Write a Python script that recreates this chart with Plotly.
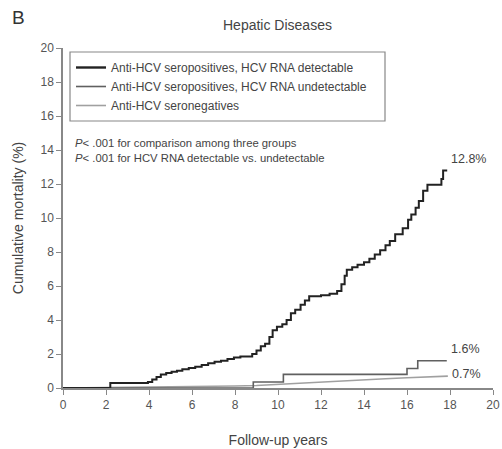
import plotly.graph_objects as go

# Data
det_t = [0, 2.2, 3.95, 4.15, 4.35, 4.55, 4.8, 5.05, 5.3, 5.55, 5.85, 6.15, 6.45, 6.75, 7.05, 7.35,
         7.65, 7.95, 8.25, 8.8, 9.0, 9.2, 9.4, 9.6, 9.75, 9.95, 10.2, 10.4, 10.6, 10.8, 11.05,
         11.25, 11.45, 12.0, 12.4, 12.75, 12.95, 13.1, 13.2, 13.45, 13.7, 14.0, 14.25, 14.5,
         14.75, 15.0, 15.2, 15.45, 15.8, 16.05, 16.2, 16.4, 16.55, 16.75, 16.95, 17.6, 17.68, 17.87]
det_v = [0, 0.3, 0.35, 0.5, 0.65, 0.8, 0.88, 0.95, 1.02, 1.1, 1.18, 1.25, 1.35, 1.45, 1.55, 1.6,
         1.7, 1.8, 1.85, 2.0, 2.2, 2.45, 2.6, 3.0, 3.4, 3.6, 3.75, 4.0, 4.4, 4.6, 4.9,
         5.15, 5.4, 5.45, 5.55, 5.7, 6.1, 6.6, 6.95, 7.1, 7.25, 7.4, 7.6, 7.85,
         8.1, 8.4, 8.65, 9.05, 9.4, 9.9, 10.2, 10.6, 11.0, 11.6, 11.95, 12.3, 12.8, 12.8]

und_t = [0, 8.85, 10.25, 16.0, 16.5, 17.85]
und_v = [0, 0.35, 0.8, 1.15, 1.6, 1.6]

neg_t = [0, 2, 4, 6, 8, 9, 10, 11, 12, 13, 14, 15, 16, 17, 17.9]
neg_v = [0, 0.02, 0.05, 0.08, 0.12, 0.15, 0.22, 0.3, 0.36, 0.42, 0.48, 0.54, 0.6, 0.65, 0.7]

series_names = ["Anti-HCV seropositives, HCV RNA detectable",
                "Anti-HCV seropositives, HCV RNA undetectable",
                "Anti-HCV seronegatives"]
end_labels = ["12.8%", "1.6%", "0.7%"]
x_ticks = list(range(0, 21, 2))
y_ticks = list(range(0, 21, 2))

fig = go.Figure()
fig.add_trace(go.Scatter(x=neg_t, y=neg_v, mode="lines", name=series_names[2],
                         line=dict(color="#a0a0a0", width=1.6), showlegend=False))
fig.add_trace(go.Scatter(x=und_t, y=und_v, mode="lines", name=series_names[1],
                         line=dict(color="#606060", width=1.6, shape="hv"), showlegend=False))
fig.add_trace(go.Scatter(x=det_t, y=det_v, mode="lines", name=series_names[0],
                         line=dict(color="#222222", width=2.0, shape="hv"), showlegend=False))

# legend entries (ordered)
for name, col, w in [(series_names[0], "#222222", 2.4),
                     (series_names[1], "#606060", 1.6),
                     (series_names[2], "#a0a0a0", 1.6)]:
    fig.add_trace(go.Scatter(x=[None], y=[None], mode="lines", name=name,
                             line=dict(color=col, width=w)))

ann_font = dict(family="Liberation Sans, Arial, sans-serif", color="#444444")
annotations = [
    dict(x=det_t[-1], y=det_v[-1], text=end_labels[0], xref="x", yref="y", showarrow=False,
         xanchor="left", yanchor="bottom", xshift=2, yshift=2, font=dict(size=12.5, **ann_font)),
    dict(x=und_t[-1], y=und_v[-1], text=end_labels[1], xref="x", yref="y", showarrow=False,
         xanchor="left", yanchor="bottom", xshift=2, yshift=3, font=dict(size=12.5, **ann_font)),
    dict(x=neg_t[-1], y=neg_v[-1], text=end_labels[2], xref="x", yref="y", showarrow=False,
         xanchor="left", yanchor="middle", xshift=2, yshift=2, font=dict(size=12.5, **ann_font)),
    dict(x=73, y=143, xref="paper", yref="paper", text="<i>P</i>< .001 for comparison among three groups",
         showarrow=False, xanchor="left", yanchor="middle", font=dict(size=11.3, **ann_font)),
    dict(x=73, y=158, xref="paper", yref="paper", text="<i>P</i>< .001 for HCV RNA detectable vs. undetectable",
         showarrow=False, xanchor="left", yanchor="middle", font=dict(size=11.3, **ann_font)),
    dict(x=18, y=17, xref="paper", yref="paper", text="B", showarrow=False,
         xanchor="center", yanchor="middle", font=dict(size=19, family="Liberation Sans, Arial, sans-serif", color="#333333")),
    dict(x=277, y=25, xref="paper", yref="paper", text="Hepatic Diseases", showarrow=False,
         xanchor="center", yanchor="middle", font=dict(size=14, **ann_font)),
]

# convert pixel-positioned paper annotations to paper coordinates
W, H = 502, 449
L, R, T, B = 63, 9, 48, 61
pw, ph = W - L - R, H - T - B
def px2x(px):
    return (px - L) / pw
def py2y(py):
    return 1 - (py - T) / ph
for a in annotations:
    if a["xref"] == "paper":
        a["x"] = px2x(a["x"])
        a["y"] = py2y(a["y"])

legend_box = dict(type="rect", xref="paper", yref="paper",
                  x0=px2x(70), x1=px2x(385), y0=py2y(121), y1=py2y(52),
                  line=dict(color="#888888", width=1.2), fillcolor="rgba(0,0,0,0)", layer="above")

fig.update_layout(
    width=W, height=H,
    margin=dict(l=L, r=R, t=T, b=B, autoexpand=False),
    paper_bgcolor="white", plot_bgcolor="white",
    font=dict(family="Liberation Sans, Arial, sans-serif", color="#444444"),
    annotations=annotations,
    shapes=[legend_box],
    legend=dict(x=px2x(71), y=py2y(53), xanchor="left", yanchor="top",
                borderwidth=0, bgcolor="rgba(0,0,0,0)",
                font=dict(size=12, color="#444444"), tracegroupgap=0,
                itemwidth=30),
    xaxis=dict(range=[0, 20], tickvals=x_ticks, ticks="outside", ticklen=5, tickcolor="#888888",
               showline=True, linecolor="#888888", linewidth=1.5, showgrid=False, zeroline=False,
               tickfont=dict(size=12, color="#555555"), automargin=False,
               title=dict(text="Follow-up years", font=dict(size=14, color="#444444"), standoff=24)),
    yaxis=dict(range=[0, 20], tickvals=y_ticks, ticks="outside", ticklen=5, tickcolor="#888888",
               showline=True, linecolor="#888888", linewidth=1.5, showgrid=False, zeroline=False,
               tickfont=dict(size=12, color="#555555"), automargin=False,
               title=dict(text="Cumulative mortality (%)", font=dict(size=14, color="#444444"), standoff=14)),
)
fig.write_html("out.html")
